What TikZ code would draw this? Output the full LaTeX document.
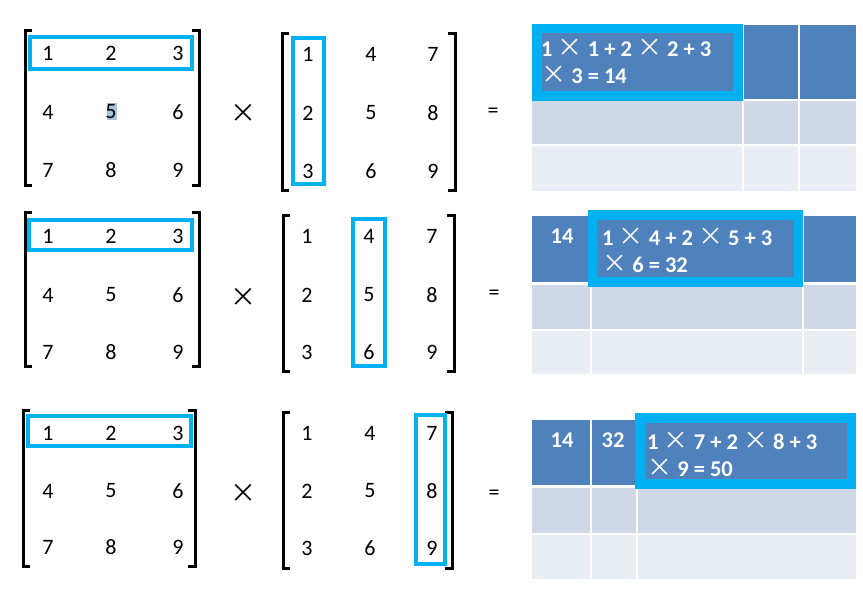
\documentclass[tikz,border=0pt]{standalone}
\usepackage{fontspec}
\setmainfont{Carlito}
\newfontfamily\cjk{Noto Sans CJK SC}
\definecolor{hlcyan}{HTML}{00B0F0}
\definecolor{hdr}{HTML}{4F81BD}
\definecolor{rowa}{HTML}{D0D8E8}
\definecolor{rowb}{HTML}{E9EDF4}
\definecolor{selbg}{RGB}{166,196,220}
\newcommand\drawmat[9]{%
  \foreach \r/\yy in {1/#7,2/#8,3/#9}{%
    \foreach \c/\xx in {1/#4,2/#5,3/#6}{%
      \pgfmathtruncatemacro\vv{#2*\r+#3*\c-3}%
      \node[num] (#1-\r\c) at (\xx,\yy) {\vv};
    }%
  }%
}
\newcommand\brk[4]{%
  \draw[bracket] (#1+7,#3) -- (#1,#3) -- (#1,#4) -- (#1+7,#4);
  \draw[bracket] (#2-7,#3) -- (#2,#3) -- (#2,#4) -- (#2-7,#4);
}
\newcommand\tx{{\mdseries\cjk\fontsize{25}{27}\selectfont ×}}
\begin{document}
\begin{tikzpicture}[x=1pt,y=-1pt,
  num/.style={font=\fontsize{22}{26}\selectfont, inner sep=0pt},
  hl/.style={draw=hlcyan, line width=4pt},
  bracket/.style={line width=3pt},
  op/.style={font=\fontsize{22}{26}\selectfont, inner sep=0pt},
  tnum/.style={font=\bfseries\fontsize{22.5}{27}\selectfont, text=white, inner sep=0pt},
  ttext/.style={font=\bfseries\fontsize{22.5}{27}\selectfont, text=white, inner sep=0pt, align=left, anchor=north west}]
\useasboundingbox (0,0) rectangle (863,589);

% ---------- row 1 ----------
\fill[selbg] (107,103) rectangle (117,120);
\drawmat{a1}{3}{1}{48}{111}{178}{53}{112}{170}
\drawmat{b1}{1}{3}{308}{371}{433}{54}{113}{171}
\brk{25}{199}{30}{185}
\brk{282}{455}{33}{190}
\draw[hl] (30,37) rectangle (192,69);
\draw[hl] (293,38) rectangle (324,184);
\node[op] (x1) at (243,113) {\cjk\fontsize{26}{28}\selectfont ×};
\node[op] (e1) at (493,113) {=};

% ---------- row 2 ----------
\drawmat{a2}{3}{1}{48}{111}{178}{236}{295}{352}
\drawmat{b2}{1}{3}{307}{369}{432}{236}{295}{352}
\brk{25}{199}{212}{366}
\brk{283}{454}{215}{371}
\draw[hl] (29,220) rectangle (192,250);
\draw[hl] (353,219) rectangle (385,366);
\node[op] (x2) at (243,297) {\cjk\fontsize{26}{28}\selectfont ×};
\node[op] (e2) at (494,295) {=};

% ---------- row 3 ----------
\drawmat{a3}{3}{1}{48}{111}{178}{433}{491}{547}
\drawmat{b3}{1}{3}{307}{370}{432}{433}{491}{548}
\brk{23}{195}{410}{566}
\brk{283}{452}{412}{568}
\draw[hl] (28,416) rectangle (191,446);
\draw[hl] (416,415) rectangle (445,564);
\node[op] (x3) at (243,493) {\cjk\fontsize{26}{28}\selectfont ×};
\node[op] (e3) at (494,495) {=};

% ---------- table 1 ----------
\fill[hdr] (532,25) rectangle (742,99);
\fill[hdr] (744,25) rectangle (798,99);
\fill[hdr] (800,25) rectangle (856,99);
\fill[rowa] (532,101) rectangle (742,144);
\fill[rowa] (744,101) rectangle (798,144);
\fill[rowa] (800,101) rectangle (856,144);
\fill[rowb] (532,146) rectangle (742,191);
\fill[rowb] (744,146) rectangle (798,191);
\fill[rowb] (800,146) rectangle (856,191);
\fill[hlcyan] (532,24) rectangle (743,101);
\fill[hdr] (542,33) rectangle (733,91);
\node[ttext] (t1) at (541,39) {1 \tx{} 1 + 2 \tx{} 2 + 3\\\tx{} 3 = 14};

% ---------- table 2 ----------
\fill[hdr] (532,216) rectangle (590,282);
\fill[hdr] (592,216) rectangle (802,282);
\fill[hdr] (804,216) rectangle (856,282);
\fill[rowa] (532,285) rectangle (590,329);
\fill[rowa] (592,285) rectangle (802,329);
\fill[rowa] (804,285) rectangle (856,329);
\fill[rowb] (532,331) rectangle (590,374);
\fill[rowb] (592,331) rectangle (802,374);
\fill[rowb] (804,331) rectangle (856,374);
\fill[hlcyan] (588,210) rectangle (803,287);
\fill[hdr] (597,220) rectangle (794,277);
\node[tnum] (c21) at (562,236) {14};
\node[ttext] (t2) at (602,228) {1 \tx{} 4 + 2 \tx{} 5 + 3\\\tx{} 6 = 32};

% ---------- table 3 ----------
\fill[hdr] (532,420) rectangle (590,485);
\fill[hdr] (592,420) rectangle (636,485);
\fill[hdr] (638,420) rectangle (856,485);
\fill[rowa] (532,488) rectangle (590,533);
\fill[rowa] (592,488) rectangle (636,533);
\fill[rowa] (638,488) rectangle (856,533);
\fill[rowb] (532,535) rectangle (590,579);
\fill[rowb] (592,535) rectangle (636,579);
\fill[rowb] (638,535) rectangle (856,579);
\fill[hlcyan] (635,413) rectangle (856,489);
\fill[hdr] (645,423) rectangle (847,479);
\node[tnum] (c31) at (562,440) {14};
\node[tnum] (c32) at (613,440) {32};
\node[ttext] (t3) at (647,432) {1 \tx{} 7 + 2 \tx{} 8 + 3\\\tx{} 9 = 50};
\end{tikzpicture}
\end{document}
